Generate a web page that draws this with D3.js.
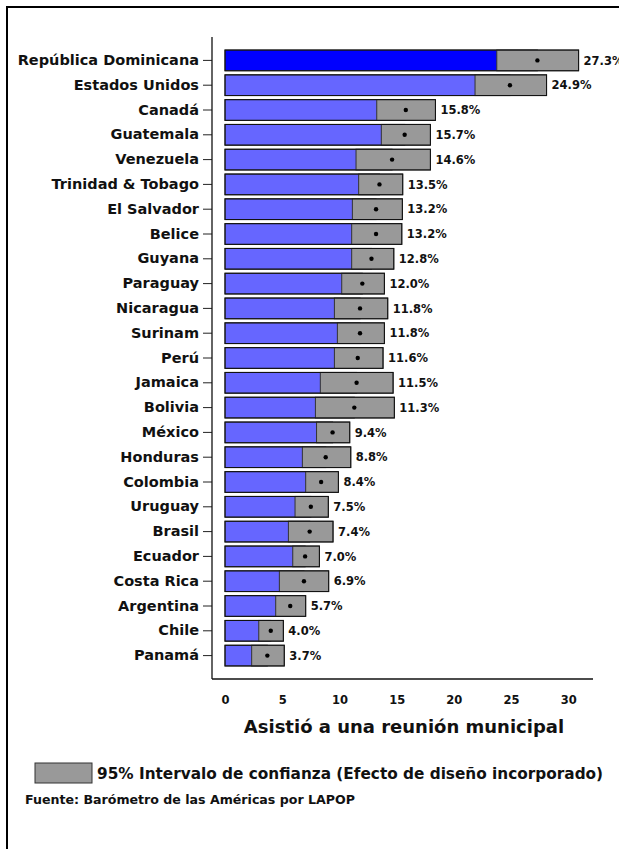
<!DOCTYPE html>
<html>
<head>
<meta charset="utf-8">
<title>Asistió a una reunión municipal</title>
<script src="https://d3js.org/d3.v7.min.js"></script>
<style>
  body { margin: 0; background: #fff; }
  svg text { font-family: "DejaVu Sans", "Liberation Sans", sans-serif; font-weight: bold; fill: #111; }
</style>
</head>
<body>
<div id="chart"></div>
<script>
// countries, top to bottom
var countries = ["República Dominicana", "Estados Unidos", "Canadá", "Guatemala", "Venezuela",
  "Trinidad & Tobago", "El Salvador", "Belice", "Guyana", "Paraguay", "Nicaragua", "Surinam",
  "Perú", "Jamaica", "Bolivia", "México", "Honduras", "Colombia", "Uruguay", "Brasil",
  "Ecuador", "Costa Rica", "Argentina", "Chile", "Panamá"];
var means = [27.3, 24.9, 15.8, 15.7, 14.6, 13.5, 13.2, 13.2, 12.8, 12.0, 11.8, 11.8,
  11.6, 11.5, 11.3, 9.4, 8.8, 8.4, 7.5, 7.4, 7.0, 6.9, 5.7, 4.0, 3.7];
var lower = [23.75, 21.85, 13.26, 13.66, 11.45, 11.68, 11.13, 11.07, 11.07, 10.2, 9.56, 9.82,
  9.56, 8.33, 7.9, 8.0, 6.76, 7.05, 6.12, 5.54, 5.92, 4.75, 4.43, 2.95, 2.33];
var upper = [30.9, 28.1, 18.39, 17.95, 17.95, 15.53, 15.5, 15.45, 14.75, 13.93, 14.22, 13.93,
  13.81, 14.69, 14.8, 10.9, 10.99, 9.91, 9.03, 9.44, 8.25, 9.06, 7.05, 5.1, 5.18];
var xTicks = [0, 5, 10, 15, 20, 25, 30];
var highlight = "República Dominicana";

var data = countries.map(function(c, i) {
  return { country: c, mean: means[i], lo: lower[i], hi: upper[i] };
});

var W = 619, H = 849;
var svg = d3.select("#chart").append("svg")
  .attr("width", W).attr("height", H);

// outer frame (runs off the right and bottom)
svg.append("rect")
  .attr("x", 7).attr("y", 7)
  .attr("width", 640).attr("height", 880)
  .attr("fill", "none").attr("stroke", "#000").attr("stroke-width", 2);

var x = d3.scaleLinear().domain([0, 30]).range([225, 568.3]);
var y = d3.scaleBand().domain(countries).range([48, 668])
  .paddingInner(0.165).paddingOuter(0.0825);

var axisX = 212, axisY = 679;

// bars: blue from 0 to mean
svg.selectAll(".bar").data(data).enter().append("rect")
  .attr("x", x(0))
  .attr("y", function(d) { return y(d.country); })
  .attr("width", function(d) { return x(d.mean) - x(0); })
  .attr("height", y.bandwidth())
  .attr("fill", function(d) { return d.country === highlight ? "#0000ff" : "#6666ff"; })
  .attr("stroke", "#222").attr("stroke-width", 1);

// confidence intervals
svg.selectAll(".ci").data(data).enter().append("rect")
  .attr("x", function(d) { return x(d.lo); })
  .attr("y", function(d) { return y(d.country); })
  .attr("width", function(d) { return x(d.hi) - x(d.lo); })
  .attr("height", y.bandwidth())
  .attr("fill", "#999999")
  .attr("stroke", "#333").attr("stroke-width", 1);

// outline of full bar extent
svg.selectAll(".outline").data(data).enter().append("rect")
  .attr("x", x(0))
  .attr("y", function(d) { return y(d.country); })
  .attr("width", function(d) { return x(d.hi) - x(0); })
  .attr("height", y.bandwidth())
  .attr("fill", "none")
  .attr("stroke", "#111").attr("stroke-width", 1);

svg.selectAll(".dot").data(data).enter().append("circle")
  .attr("cx", function(d) { return x(d.mean); })
  .attr("cy", function(d) { return y(d.country) + y.bandwidth() / 2; })
  .attr("r", 2.2).attr("fill", "#000");

// value labels (the top one runs off the right edge, as in the original)
svg.selectAll(".val").data(data).enter().append("text")
  .attr("x", function(d) { return x(d.hi) + 5; })
  .attr("y", function(d) { return y(d.country) + y.bandwidth() / 2; })
  .attr("dy", "0.36em")
  .style("font-size", "11.5px")
  .text(function(d) { return d.mean.toFixed(1) + "%"; });

// y axis
var gy = svg.append("g").attr("transform", "translate(" + axisX + ",0)")
  .call(d3.axisLeft(y).tickSize(9).tickPadding(4));
gy.select(".domain").remove();
gy.selectAll(".tick line").attr("stroke", "#222");
gy.selectAll(".tick text").style("font-size", "14.5px").attr("fill", "#111")
  .style("font-family", "'DejaVu Sans', sans-serif");
svg.append("line").attr("x1", axisX).attr("x2", axisX)
  .attr("y1", 37).attr("y2", axisY).attr("stroke", "#111").attr("stroke-width", 1.3);

// x axis
var gx = svg.append("g").attr("transform", "translate(0," + axisY + ")")
  .call(d3.axisBottom(x).tickValues(xTicks).tickSize(0).tickPadding(17));
gx.select(".domain").remove();
gx.selectAll(".tick text").style("font-size", "11.5px").attr("fill", "#111")
  .style("font-family", "'DejaVu Sans', sans-serif");
svg.append("line").attr("x1", axisX).attr("x2", 593)
  .attr("y1", axisY).attr("y2", axisY).attr("stroke", "#111").attr("stroke-width", 1.3);

svg.append("text")
  .attr("x", 404).attr("y", 733)
  .attr("text-anchor", "middle")
  .style("font-size", "18px")
  .text("Asistió a una reunión municipal");

// legend
svg.append("rect").attr("x", 35).attr("y", 763).attr("width", 57).attr("height", 20)
  .attr("fill", "#999999").attr("stroke", "#333").attr("stroke-width", 1);
svg.append("text").attr("x", 97).attr("y", 773).attr("dy", "0.36em")
  .style("font-size", "15.3px")
  .text("95% Intervalo de confianza (Efecto de diseño incorporado)");

svg.append("text").attr("x", 25).attr("y", 799).attr("dy", "0.36em")
  .style("font-size", "12.6px")
  .text("Fuente: Barómetro de las Américas por LAPOP");
</script>
</body>
</html>
